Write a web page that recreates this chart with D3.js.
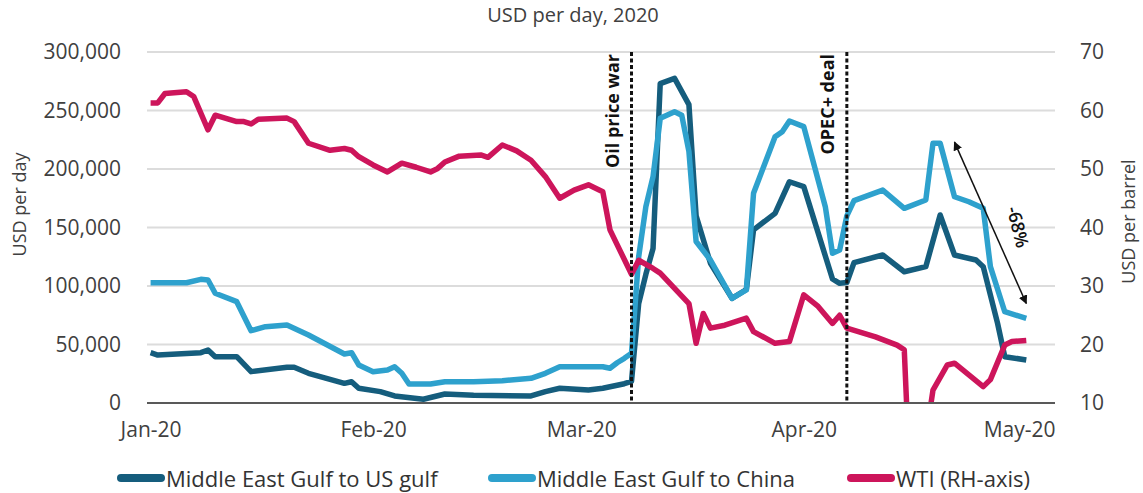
<!DOCTYPE html>
<html>
<head>
<meta charset="utf-8">
<script src="https://cdn.jsdelivr.net/npm/d3@7"></script>
<style>
  body { margin: 0; background: #fff; }
  svg { display: block; }
  text { font-family: "Open Sans", sans-serif; }
</style>
</head>
<body>
<svg id="chart" width="1143" height="493"></svg>
<script>
// Tanker rates (USD per day) and WTI price (USD per barrel), Jan–May 2020
const title = "USD per day, 2020";
const leftTicks = [0, 50000, 100000, 150000, 200000, 250000, 300000];
const rightTicks = [10, 20, 30, 40, 50, 60, 70];
const monthTicks = ["2020-01-01", "2020-02-01", "2020-03-01", "2020-04-01", "2020-05-01"];
const seriesNames = ["Middle East Gulf to US gulf", "Middle East Gulf to China", "WTI (RH-axis)"];

const usGulf = [
  ["2020-01-01", 43000], ["2020-01-02", 41000], ["2020-01-08", 43000], ["2020-01-09", 45300],
  ["2020-01-10", 39600], ["2020-01-13", 39600], ["2020-01-15", 26800], ["2020-01-20", 30500],
  ["2020-01-21", 30500], ["2020-01-23", 25400], ["2020-01-28", 16800], ["2020-01-29", 18200],
  ["2020-01-30", 12600], ["2020-02-02", 9700], ["2020-02-04", 6000], ["2020-02-08", 3200],
  ["2020-02-11", 7700], ["2020-02-15", 6600], ["2020-02-23", 6000], ["2020-02-25", 9700],
  ["2020-02-27", 12600], ["2020-03-02", 11100], ["2020-03-04", 12600], ["2020-03-07", 16500],
  ["2020-03-08", 18500], ["2020-03-09", 85000], ["2020-03-10", 110000], ["2020-03-11", 132000],
  ["2020-03-12", 273000], ["2020-03-14", 277500], ["2020-03-16", 255000], ["2020-03-17", 160000],
  ["2020-03-19", 119400], ["2020-03-22", 89500], ["2020-03-24", 97000], ["2020-03-25", 148000],
  ["2020-03-28", 162100], ["2020-03-30", 189100], ["2020-04-01", 184900], ["2020-04-05", 106000],
  ["2020-04-06", 102300], ["2020-04-07", 103000], ["2020-04-08", 120000], ["2020-04-12", 126500],
  ["2020-04-15", 112200], ["2020-04-18", 116500], ["2020-04-20", 160700], ["2020-04-22", 126500],
  ["2020-04-25", 122200], ["2020-04-26", 116500], ["2020-04-28", 68100], ["2020-04-29", 39600],
  ["2020-05-02", 36800]
];

const toChina = [
  ["2020-01-01", 102800], ["2020-01-06", 102800], ["2020-01-08", 105700], ["2020-01-09", 105100],
  ["2020-01-10", 93800], ["2020-01-13", 86600], ["2020-01-15", 61800], ["2020-01-17", 65200],
  ["2020-01-20", 66700], ["2020-01-23", 58100], ["2020-01-28", 41900], ["2020-01-29", 43000],
  ["2020-01-30", 32500], ["2020-02-01", 26800], ["2020-02-03", 28200], ["2020-02-04", 31000],
  ["2020-02-05", 25400], ["2020-02-06", 16200], ["2020-02-09", 16200], ["2020-02-11", 18200],
  ["2020-02-15", 18200], ["2020-02-19", 19100], ["2020-02-23", 21100], ["2020-02-25", 25400],
  ["2020-02-27", 31000], ["2020-03-04", 31000], ["2020-03-05", 29700], ["2020-03-06", 34400],
  ["2020-03-07", 38200], ["2020-03-08", 42500], ["2020-03-09", 125000], ["2020-03-10", 167800],
  ["2020-03-11", 193400], ["2020-03-12", 243300], ["2020-03-14", 249000], ["2020-03-15", 246000],
  ["2020-03-16", 215000], ["2020-03-17", 138000], ["2020-03-19", 122200], ["2020-03-22", 89500],
  ["2020-03-24", 96600], ["2020-03-25", 179200], ["2020-03-28", 227600], ["2020-03-29", 231900],
  ["2020-03-30", 241000], ["2020-04-01", 236200], ["2020-04-04", 167800], ["2020-04-05", 128000],
  ["2020-04-06", 130800], ["2020-04-07", 160000], ["2020-04-08", 173000], ["2020-04-12", 182000],
  ["2020-04-15", 166400], ["2020-04-18", 173500], ["2020-04-19", 222000], ["2020-04-20", 222000],
  ["2020-04-22", 176300], ["2020-04-24", 172000], ["2020-04-26", 166400], ["2020-04-27", 116500],
  ["2020-04-29", 78000], ["2020-05-02", 72400]
];

const wti = [
  ["2020-01-01", 61.3], ["2020-01-02", 61.3], ["2020-01-03", 62.9], ["2020-01-06", 63.2],
  ["2020-01-07", 62.4], ["2020-01-09", 56.7], ["2020-01-10", 59.2], ["2020-01-13", 58.1],
  ["2020-01-14", 58.1], ["2020-01-15", 57.7], ["2020-01-16", 58.5], ["2020-01-20", 58.7],
  ["2020-01-21", 58.1], ["2020-01-23", 54.4], ["2020-01-26", 53.2], ["2020-01-28", 53.5],
  ["2020-01-29", 53.2], ["2020-01-30", 52.1], ["2020-02-01", 50.7], ["2020-02-03", 49.5],
  ["2020-02-05", 51.0], ["2020-02-07", 50.3], ["2020-02-09", 49.5], ["2020-02-10", 50.1],
  ["2020-02-11", 51.2], ["2020-02-13", 52.2], ["2020-02-16", 52.4], ["2020-02-17", 52.0],
  ["2020-02-19", 54.1], ["2020-02-21", 53.1], ["2020-02-23", 51.5], ["2020-02-25", 48.7],
  ["2020-02-27", 45.0], ["2020-02-29", 46.4], ["2020-03-02", 47.3], ["2020-03-04", 46.1],
  ["2020-03-05", 39.6], ["2020-03-08", 32.0], ["2020-03-09", 34.4], ["2020-03-11", 33.0],
  ["2020-03-12", 32.2], ["2020-03-16", 27.0], ["2020-03-17", 20.2], ["2020-03-18", 25.3],
  ["2020-03-19", 22.8], ["2020-03-21", 23.3], ["2020-03-24", 24.5], ["2020-03-25", 22.2],
  ["2020-03-28", 20.2], ["2020-03-30", 20.5], ["2020-04-01", 28.5], ["2020-04-03", 26.5],
  ["2020-04-05", 23.6], ["2020-04-06", 25.0], ["2020-04-07", 22.8], ["2020-04-11", 21.3],
  ["2020-04-14", 19.9], ["2020-04-15", 19.1], ["2020-04-17", -37.6], ["2020-04-18", 4.0],
  ["2020-04-19", 12.2], ["2020-04-21", 16.5], ["2020-04-22", 16.8], ["2020-04-26", 12.8],
  ["2020-04-27", 14.0], ["2020-04-29", 19.9], ["2020-04-30", 20.5], ["2020-05-02", 20.7]
];

const events = [
  ["2020-03-08", "Oil price war"],
  ["2020-04-07", "OPEC+ deal"]
];

// China-route drop from the mid-April spike to the end of the period
const drop = { from: ["2020-04-22", 223000], to: ["2020-05-02", 85000], label: "-68%" };

// ---------------------------------------------------------------
const parse = d3.timeParse("%Y-%m-%d");
const colors = ["#155d7d", "#2ea1cd", "#cd155b"];

const svg = d3.select("#chart");
const plot = { left: 147, right: 1055, top: 52, bottom: 403 };

const x = d3.scaleTime()
  .domain([new Date(2019, 11, 31, 12), new Date(2020, 4, 6)])
  .range([plot.left, plot.right]);
const yL = d3.scaleLinear().domain([0, 300000]).range([plot.bottom, plot.top]);
const yR = d3.scaleLinear().domain([10, 70]).range([plot.bottom, plot.top]);

svg.append("defs").append("clipPath").attr("id", "plotClip")
  .append("rect")
  .attr("x", plot.left - 4).attr("y", plot.top - 10)
  .attr("width", plot.right - plot.left + 8).attr("height", plot.bottom - plot.top + 10);

// title
svg.append("text")
  .attr("x", 573).attr("y", 22)
  .attr("text-anchor", "middle")
  .attr("font-size", 20).attr("fill", "#404040")
  .text(title);

// gridlines
svg.append("g")
  .selectAll("line")
  .data(leftTicks.filter(d => d > 0))
  .join("line")
  .attr("x1", plot.left).attr("x2", plot.right)
  .attr("y1", d => yL(d)).attr("y2", d => yL(d))
  .attr("stroke", "#dcdcdc").attr("stroke-width", 2);

const styleTicks = g => g.selectAll("text")
  .attr("font-size", 21).attr("fill", "#404040")
  .attr("font-family", "Open Sans, sans-serif");

// left axis
svg.append("g")
  .attr("transform", `translate(${plot.left},0)`)
  .call(d3.axisLeft(yL).tickValues(leftTicks).tickFormat(d3.format(",")).tickSize(0).tickPadding(26))
  .call(g => g.select(".domain").remove())
  .call(styleTicks);

// right axis
svg.append("g")
  .attr("transform", `translate(${plot.right},0)`)
  .call(d3.axisRight(yR).tickValues(rightTicks).tickFormat(d3.format("d")).tickSize(0).tickPadding(25))
  .call(g => g.select(".domain").remove())
  .call(styleTicks);

// bottom axis labels
svg.append("g")
  .attr("transform", `translate(0,${plot.bottom})`)
  .call(d3.axisBottom(x)
    .tickValues(monthTicks.map(parse))
    .tickFormat(d3.timeFormat("%b-%y"))
    .tickSize(0).tickPadding(19))
  .call(g => g.select(".domain").remove())
  .call(styleTicks);

// axis titles
svg.append("text")
  .attr("transform", `translate(26,${(plot.top + plot.bottom) / 2 - 23}) rotate(-90)`)
  .attr("text-anchor", "middle").attr("font-size", 18).attr("fill", "#404040")
  .text("USD per day");
svg.append("text")
  .attr("transform", `translate(1135,${(plot.top + plot.bottom) / 2 - 6}) rotate(-90)`)
  .attr("text-anchor", "middle").attr("font-size", 18).attr("fill", "#404040")
  .text("USD per barrel");

// series
const lineL = d3.line().x(d => x(parse(d[0]))).y(d => yL(d[1]));
const lineR = d3.line().x(d => x(parse(d[0]))).y(d => yR(d[1]));
const series = [
  { data: usGulf, line: lineL },
  { data: toChina, line: lineL },
  { data: wti, line: lineR }
];
const lines = svg.append("g").attr("clip-path", "url(#plotClip)");
series.forEach((s, i) => {
  lines.append("path")
    .datum(s.data)
    .attr("d", s.line)
    .attr("fill", "none")
    .attr("stroke", colors[i])
    .attr("stroke-width", 5.5)
    .attr("stroke-linejoin", "round")
    .attr("stroke-linecap", "butt");
});

// x baseline
svg.append("line")
  .attr("x1", plot.left).attr("x2", plot.right)
  .attr("y1", plot.bottom).attr("y2", plot.bottom)
  .attr("stroke", "#595959").attr("stroke-width", 2);

// event markers
const ev = svg.append("g");
events.forEach(([date, label]) => {
  const ex = x(parse(date));
  ev.append("line")
    .attr("x1", ex).attr("x2", ex)
    .attr("y1", plot.top).attr("y2", plot.bottom)
    .attr("stroke", "#111").attr("stroke-width", 3)
    .attr("stroke-dasharray", "4,2.5");
  ev.append("text")
    .attr("transform", `translate(${ex - 13},${plot.top + 2}) rotate(-90)`)
    .attr("text-anchor", "end")
    .attr("font-size", 18).attr("font-weight", 700).attr("fill", "#111")
    .text(label);
});

// drop annotation
svg.select("defs").append("marker")
  .attr("id", "arrowHead")
  .attr("viewBox", "0 0 10 10").attr("refX", 9).attr("refY", 5)
  .attr("markerWidth", 9).attr("markerHeight", 9)
  .attr("markerUnits", "userSpaceOnUse")
  .attr("orient", "auto-start-reverse")
  .append("path").attr("d", "M0,0 L10,5 L0,10 Z").attr("fill", "#111");
const ax1 = x(parse(drop.from[0])), ay1 = yL(drop.from[1]);
const ax2 = x(parse(drop.to[0])), ay2 = yL(drop.to[1]);
svg.append("line")
  .attr("x1", ax1).attr("y1", ay1).attr("x2", ax2).attr("y2", ay2)
  .attr("stroke", "#111").attr("stroke-width", 1.5)
  .attr("marker-start", "url(#arrowHead)").attr("marker-end", "url(#arrowHead)");
svg.append("text")
  .attr("transform", `translate(${(ax1 + ax2) / 2 + 28},${(ay1 + ay2) / 2 + 4}) rotate(76)`)
  .attr("text-anchor", "middle").attr("dominant-baseline", "central")
  .attr("font-size", 18).attr("font-weight", 600).attr("fill", "#111")
  .text(drop.label);

// legend
const legendX = [118, 489, 848];
const legend = svg.append("g");
seriesNames.forEach((name, i) => {
  legend.append("line")
    .attr("x1", legendX[i] + 3).attr("x2", legendX[i] + 43)
    .attr("y1", 478).attr("y2", 478)
    .attr("stroke", colors[i]).attr("stroke-width", 8).attr("stroke-linecap", "round");
  legend.append("text")
    .attr("x", legendX[i] + 48).attr("y", 478)
    .attr("dominant-baseline", "central")
    .attr("font-size", 22).attr("fill", "#333")
    .text(name);
});
</script>
</body>
</html>
